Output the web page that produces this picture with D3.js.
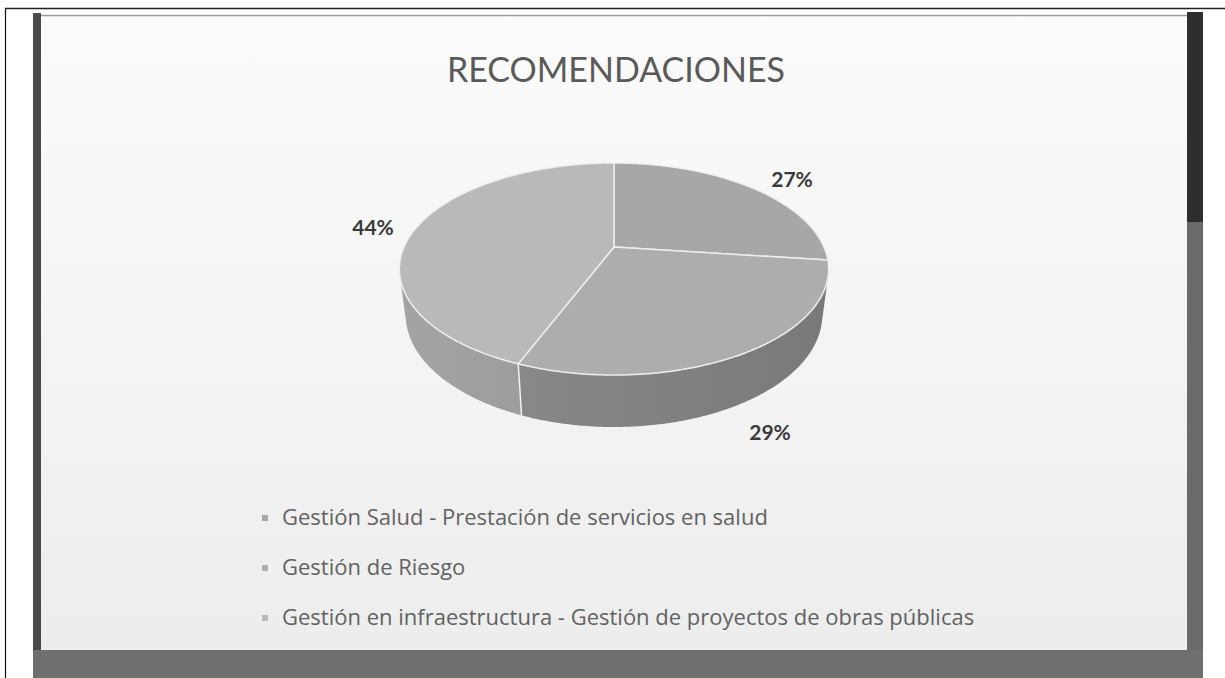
<!DOCTYPE html>
<html>
<head>
<meta charset="utf-8">
<script src="https://cdn.jsdelivr.net/npm/d3@7"></script>
<style>
  html, body { margin: 0; padding: 0; background: #fff; }
  svg { display: block; font-family: Lato, "Open Sans", sans-serif; }
</style>
</head>
<body>
<svg width="1225" height="678"></svg>
<script>
// データ
const categories = [
    "Gestión Salud - Prestación de servicios en salud",
    "Gestión de Riesgo",
    "Gestión en infraestructura - Gestión de proyectos de obras públicas"
];
const values = [27, 29, 44];
const labels = ["27%", "29%", "44%"];
const topColors = ["#a7a7a7", "#adadad", "#b9b9b9"];
const sideColors = ["#8a8a8a", "#878787", "#9b9b9b"];

const svg = d3.select("svg");
const W = 1225, H = 678;

// 背景とフレーム
const defs = svg.append("defs");
const bg = defs.append("linearGradient").attr("id", "bg")
    .attr("x1", 0).attr("y1", 0).attr("x2", 0).attr("y2", 1);
bg.append("stop").attr("offset", "0%").attr("stop-color", "#fbfbfb");
bg.append("stop").attr("offset", "45%").attr("stop-color", "#f5f5f5");
bg.append("stop").attr("offset", "100%").attr("stop-color", "#ededed");

svg.append("rect").attr("x", 40).attr("y", 15).attr("width", 1148).attr("height", 636)
    .attr("fill", "url(#bg)");
svg.append("line").attr("x1", 40).attr("x2", 1188).attr("y1", 15.5).attr("y2", 15.5)
    .attr("stroke", "#9a9a9a").attr("stroke-width", 1.5);
svg.append("rect").attr("x", 33).attr("y", 13).attr("width", 8).attr("height", 640).attr("fill", "#4a4a4a");
svg.append("rect").attr("x", 1187).attr("y", 12).attr("width", 16).attr("height", 210).attr("fill", "#2e2e2e");
svg.append("rect").attr("x", 1187).attr("y", 222).attr("width", 16).attr("height", 440).attr("fill", "#6a6a6a");
svg.append("rect").attr("x", 33).attr("y", 650).attr("width", 1170).attr("height", 28).attr("fill", "#6f6f6f");
svg.append("line").attr("x1", 5.5).attr("x2", 5.5).attr("y1", 8).attr("y2", H)
    .attr("stroke", "#111").attr("stroke-width", 1.2);
svg.append("line").attr("x1", 5).attr("x2", W).attr("y1", 8.5).attr("y2", 8.5)
    .attr("stroke", "#222").attr("stroke-width", 1.5);

// タイトル
svg.append("text")
    .attr("x", 616).attr("y", 82)
    .attr("text-anchor", "middle")
    .attr("font-size", 34)
    .attr("fill", "#5a5a5a")
    .text("RECOMENDACIONES");

// 3D円グラフ（透視投影）
const cx = 614, cy = 247;
const f = 886, D = 4.22, elev = 28.9 * Math.PI / 180;
const sE = Math.sin(elev), cE = Math.cos(elev);
const thick = 0.2525;

function proj(theta, h) {
    const X = Math.sin(theta), Y = Math.cos(theta);
    const up = Y * sE + h * cE;
    const dep = D + Y * cE - h * sE;
    return [cx + f * X / dep, cy - f * up / dep];
}

const pie = d3.pie().sort(null).startAngle(0).endAngle(2 * Math.PI);
const arcs = pie(values);
const line = d3.line();

function arcPoints(a0, a1, h) {
    const n = Math.max(2, Math.ceil((a1 - a0) / 0.01));
    return d3.range(n + 1).map(i => proj(a0 + (a1 - a0) * i / n, h));
}

// 側面の見える範囲
const ts = Math.acos(-1 / (D * cE));
const te = 2 * Math.PI - ts;

const g = svg.append("g");

arcs.forEach((d, i) => {
    const a0 = Math.max(d.startAngle, ts), a1 = Math.min(d.endAngle, te);
    if (a1 <= a0) return;
    const pts = arcPoints(a0, a1, 0).concat(arcPoints(a0, a1, -thick).reverse());
    const grad = defs.append("linearGradient").attr("id", "side" + i)
        .attr("gradientUnits", "userSpaceOnUse")
        .attr("x1", 400).attr("x2", 830).attr("y1", 0).attr("y2", 0);
    grad.append("stop").attr("offset", "0%").attr("stop-color", d3.color(sideColors[i]).brighter(0.15));
    grad.append("stop").attr("offset", "100%").attr("stop-color", d3.color(sideColors[i]).darker(0.3));
    g.append("path")
        .attr("d", line(pts) + "Z")
        .attr("fill", `url(#side${i})`)
        .attr("stroke", "none");
});

// 側面の境界線
arcs.forEach(d => {
    const a = d.startAngle;
    if (a > ts && a < te) {
        const p0 = proj(a, 0), p1 = proj(a, -thick);
        g.append("line")
            .attr("x1", p0[0]).attr("y1", p0[1]).attr("x2", p1[0]).attr("y2", p1[1])
            .attr("stroke", "#f2f2f2").attr("stroke-width", 1.5);
    }
});

// 上面
arcs.forEach((d, i) => {
    const pts = [[cx, cy]].concat(arcPoints(d.startAngle, d.endAngle, 0));
    g.append("path")
        .attr("d", line(pts) + "Z")
        .attr("fill", topColors[i])
        .attr("stroke", "#eeeeee")
        .attr("stroke-width", 1.5)
        .attr("stroke-linejoin", "round");
});

// ラベル
const labelPos = [[792, 187], [770, 440], [373, 235]];
svg.append("g").selectAll("text")
    .data(labels)
    .join("text")
    .attr("x", (d, i) => labelPos[i][0])
    .attr("y", (d, i) => labelPos[i][1])
    .attr("text-anchor", "middle")
    .attr("font-size", 21)
    .attr("font-weight", "bold")
    .attr("fill", "#3a3a3a")
    .text(d => d);

// 凡例
const legend = svg.append("g").attr("transform", "translate(262,0)");
const rowY = d3.scalePoint().domain(categories).range([525, 625]);
const item = legend.selectAll("g")
    .data(categories)
    .join("g")
    .attr("transform", d => `translate(0,${rowY(d)})`);
item.append("rect")
    .attr("x", 0).attr("y", -10).attr("width", 6).attr("height", 6)
    .attr("fill", (d, i) => topColors[i]);
item.append("text")
    .attr("x", 20).attr("y", 0)
    .attr("font-family", "'Open Sans', sans-serif")
    .attr("font-size", 22)
    .attr("fill", "#626262")
    .text(d => d);
</script>
</body>
</html>
